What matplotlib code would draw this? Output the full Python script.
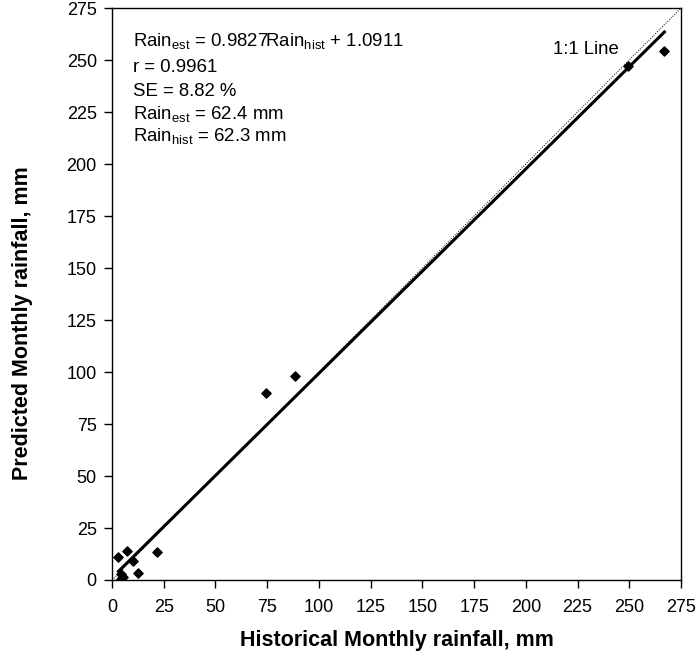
import numpy as np
import matplotlib.pyplot as plt

plt.rcParams['font.family'] = ['Liberation Sans', 'DejaVu Sans']
plt.rcParams['mathtext.fontset'] = 'custom'
plt.rcParams['mathtext.rm'] = 'Liberation Sans'
plt.rcParams['mathtext.it'] = 'Liberation Sans:italic'

# Data
hist = [3.1, 4.4, 4.4, 5.2, 7.3, 10.1, 12.5, 21.7, 74.5, 88.2, 249.3, 267.0]
pred = [11.2, 2.9, 0.3, 1.3, 14.1, 9.3, 3.4, 13.3, 89.9, 98.2, 247.3, 254.2]

# Regression reported on the chart
SLOPE = 0.9827
INTERCEPT = 1.0911
ticks = np.arange(0, 276, 25)

fig = plt.figure(figsize=(6.98, 6.57), dpi=100)
ax = fig.add_axes([0.1605, 0.1172, 0.8151, 0.8706])

# 1:1 line
ax.plot([0, 275], [0, 275], color='black', linestyle=(0, (1, 1.5)), linewidth=0.7)

# fitted line over data range
xs = np.array([min(hist), max(hist)])
ax.plot(xs, SLOPE * xs + INTERCEPT, color='black', linewidth=2.2)

ax.scatter(hist, pred, marker='D', s=22, color='black', zorder=3)

ax.set_xlim(0, 275)
ax.set_ylim(0, 275)
ax.set_xticks(ticks)
ax.set_yticks(ticks)
ax.tick_params(direction='out', length=6, width=1, labelsize=13)
ax.tick_params(axis='x', pad=8)
ax.tick_params(axis='y', pad=5)
for s in ax.spines.values():
    s.set_linewidth(1)

ax.set_xlabel('Historical Monthly rainfall, mm', fontsize=15.5, fontweight='bold')
ax.set_ylabel('Predicted Monthly rainfall, mm', fontsize=15.5, fontweight='bold')
ax.xaxis.set_label_coords(0.5, -0.088)
ax.yaxis.set_label_coords(-0.139, 0.449)

lines = [
    r'Rain$_{\mathrm{est}}$ = 0.9827Rain$_{\mathrm{hist}}$ + 1.0911',
    'r = 0.9961',
    'SE = 8.82 %',
    r'Rain$_{\mathrm{est}}$ = 62.4 mm',
    r'Rain$_{\mathrm{hist}}$ = 62.3 mm',
]
line_y = [0.9336, 0.889, 0.846, 0.806, 0.767]
for t, y in zip(lines, line_y):
    ax.text(0.037, y, t, transform=ax.transAxes, fontsize=13.4,
            va='baseline', ha='left')

ax.text(213, 255, '1:1 Line', fontsize=13.4, va='center', ha='left')

fig.savefig('out.png', dpi=100)
